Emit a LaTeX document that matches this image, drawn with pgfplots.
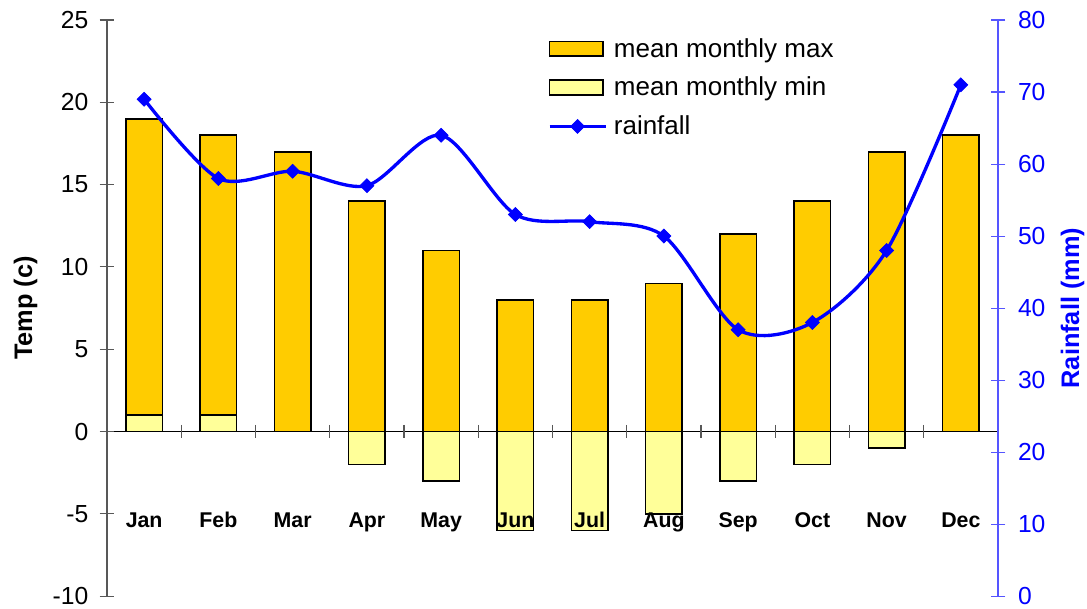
\documentclass[border=0pt]{standalone}
\usepackage{pgfplots}
\pgfplotsset{compat=1.18}
\usepackage{fontspec}
\setmainfont{Liberation Sans}

\definecolor{maxcol}{HTML}{FFCC00}
\definecolor{mincol}{HTML}{FFFF99}
\definecolor{axgray}{HTML}{585858}
\definecolor{rainblue}{HTML}{0000FF}
\definecolor{axblue}{HTML}{5555FF}

\pgfplotsset{
    rainleg/.style={legend image code/.code={%
        \draw[mark repeat=2, mark phase=2, ##1] plot coordinates {(0pt,0pt) (21pt,0pt) (42pt,0pt)};}},
}

\begin{document}
\begin{tikzpicture}
    % temperature axis (left)
    \begin{axis}[
        scale only axis,
        axis on top,
        width=668pt, height=432pt,
        xmin=0.5, xmax=12.5,
        ymin=-10, ymax=25,
        ytick={-10,-5,...,25},
        xtick={1,...,12},
        xticklabels={Jan,Feb,Mar,Apr,May,Jun,Jul,Aug,Sep,Oct,Nov,Dec},
        axis x line=bottom,
        axis y line=left,
        x axis line style={draw=none},
        y axis line style={axgray, line width=0.8pt, -},
        xtick style={draw=none},
        ytick style={axgray, line width=0.8pt},
        tick align=center,
        major tick length=11pt,
        xticklabel style={font=\fontsize{16}{18}\selectfont\bfseries, anchor=base, yshift=57pt},
        yticklabel style={font=\fontsize{18.5}{21}\selectfont, xshift=-5pt},
        /pgf/number format/assume math mode=true,
        ylabel={\textbf{Temp (c)}},
        ylabel style={font=\fontsize{19}{21}\selectfont, at={(rel axis cs:0,0.5)}, anchor=center, yshift=61pt},
        clip=false,
        ]
        \coordinate (sw) at (rel axis cs:0,0);
        \coordinate (ne) at (rel axis cs:1,1);
        \addplot[ybar, bar width=0.49, bar shift=0pt, fill=maxcol, draw=black, line width=1.2pt] coordinates {
            (1,19) (2,18) (3,17) (4,14) (5,11) (6,8)
            (7,8) (8,9) (9,12) (10,14) (11,17) (12,18)
        };
        \addplot[ybar, bar width=0.49, bar shift=0pt, fill=mincol, draw=black, line width=1.2pt] coordinates {
            (1,1) (2,1) (3,0) (4,-2) (5,-3) (6,-6)
            (7,-6) (8,-5) (9,-3) (10,-2) (11,-1) (12,0)
        };
        % zero line with category ticks
        \draw[black, line width=0.9pt] (axis cs:0.5,0) -- (axis cs:12.5,0);
        \addplot[only marks, mark=|, mark size=5pt, mark options={axgray, line width=0.8pt}] coordinates {
            (1.5,0) (2.5,0) (3.5,0) (4.5,0) (5.5,0) (6.5,0)
            (7.5,0) (8.5,0) (9.5,0) (10.5,0) (11.5,0)
        };
    \end{axis}

    % rainfall axis (right)
    \begin{axis}[
        scale only axis,
        width=668pt, height=432pt,
        xmin=0.5, xmax=12.5,
        ymin=0, ymax=80,
        ytick={0,10,...,80},
        axis x line=none,
        axis y line*=right,
        y axis line style={axblue, line width=0.8pt, -},
        ytick style={axblue, line width=0.8pt},
        tick align=center,
        major tick length=11pt,
        yticklabel style={font=\fontsize{18.5}{21}\selectfont, rainblue, xshift=6pt},
        /pgf/number format/assume math mode=true,
        ylabel={\textbf{Rainfall (mm)}},
        ylabel style={font=\fontsize{19}{21}\selectfont, rainblue, at={(rel axis cs:1,0.5)}, anchor=center, yshift=-56pt},
        legend style={at={(rel axis cs:0.49,0.978)}, anchor=north west, draw=none, fill=none,
            font=\fontsize{19.5}{21}\selectfont, row sep=9.5pt, column sep=3pt, cells={anchor=west}},
        legend cell align=left,
        clip=false,
        ]
        \addlegendimage{legend image code/.code={\draw[line width=1.2pt, draw=black, fill=maxcol] (0pt,-5.5pt) rectangle (40pt,5.5pt);}}
        \addlegendentry{mean monthly max}
        \addlegendimage{legend image code/.code={\draw[line width=1.2pt, draw=black, fill=mincol] (0pt,-5.5pt) rectangle (40pt,5.5pt);}}
        \addlegendentry{mean monthly min}
        \addplot[rainblue, line width=2.5pt, smooth, tension=0.5, mark=square*,
            mark options={rotate=45, mark size=3.7pt, line width=0.5pt, fill=rainblue},
            rainleg]
            coordinates {
            (1,69) (2,58) (3,59) (4,57) (5,64) (6,53)
            (7,52) (8,50) (9,37) (10,38) (11,48) (12,71)
        };
        \addlegendentry{rainfall}
    \end{axis}
    \pgfresetboundingbox
    \path[use as bounding box] ([shift={(-80.25pt,-9pt)}]sw) rectangle ([shift={(66.75pt,15pt)}]ne);
\end{tikzpicture}
\end{document}
